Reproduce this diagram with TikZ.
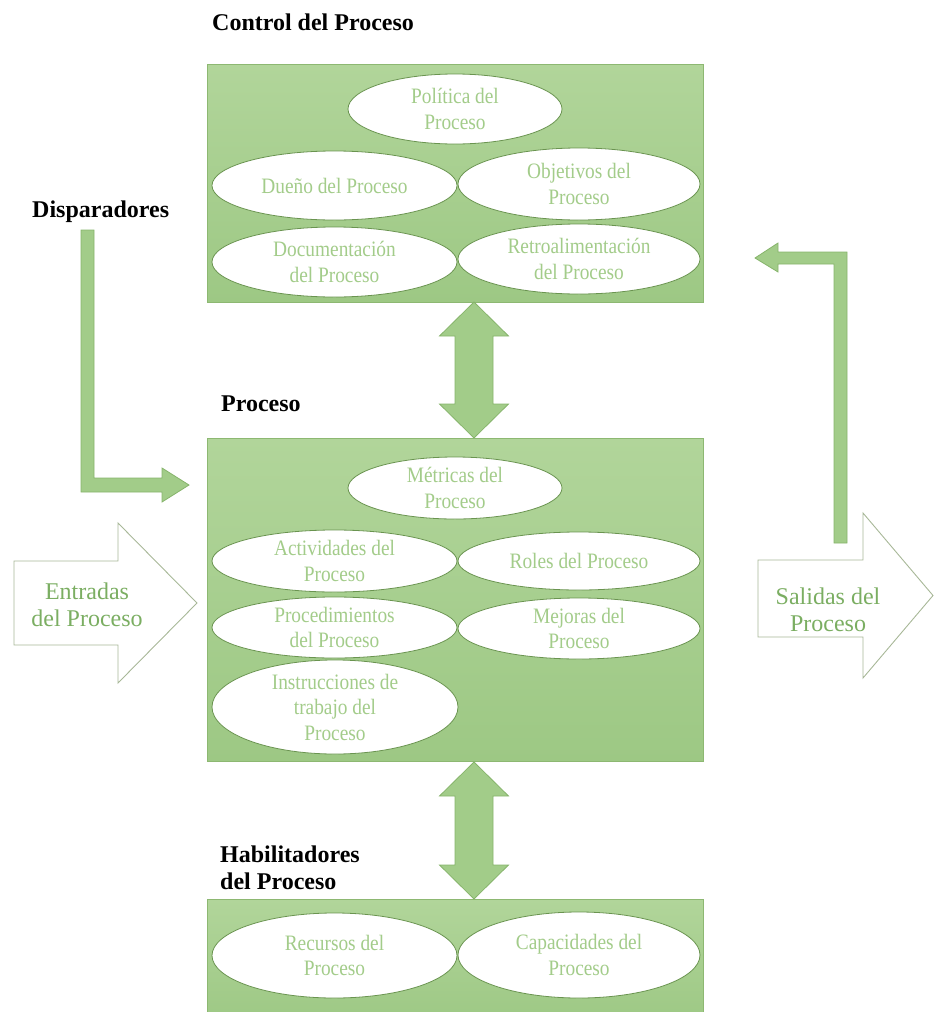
\documentclass[tikz,border=0pt]{standalone}
\usepackage{fontspec}
\setmainfont{Liberation Serif}
\newfontfamily\ovalfont[FakeStretch=0.88]{Liberation Serif}
\usetikzlibrary{shapes.geometric,calc}

\definecolor{boxtop}{HTML}{B1D59A}
\definecolor{boxbot}{HTML}{9DC884}
\definecolor{boxedge}{HTML}{8DB872}
\definecolor{ovaledge}{HTML}{6A9450}
\definecolor{ovaltext}{HTML}{A3CC8A}
\definecolor{flowedge}{HTML}{A8B898}
\definecolor{flowtext}{HTML}{7BAE62}
\definecolor{arrowfill}{HTML}{A2CC89}
\definecolor{arrowedge}{HTML}{86B46B}

\tikzset{
  panel/.style={rectangle, draw=boxedge, line width=1.2pt, top color=boxtop,
    bottom color=boxbot, inner sep=0pt, anchor=north west},
  oval/.style={ellipse, draw=ovaledge, line width=0.8pt, fill=white, inner sep=0pt,
    text=ovaltext, font=\ovalfont\fontsize{22}{25.5}\selectfont, align=center},
  heading/.style={font=\bfseries\fontsize{24}{27}\selectfont, inner sep=0pt, align=left},
  blockarrow/.style={fill=arrowfill, draw=arrowedge, line width=0.8pt, line join=miter},
  flowarrow/.style={fill=white, draw=flowedge, line width=0.9pt},
  flowlabel/.style={text=flowtext, font=\fontsize{24}{27}\selectfont, align=center, inner sep=0pt}
}

% vertical two-headed block arrow: centre x, top tip y, bottom tip y
\newcommand\vdblarrow[3]{%
  \draw[blockarrow] (#1,#2) -- (#1+34.5,#2+34) -- (#1+19,#2+34) -- (#1+19,#3-34)
    -- (#1+34.5,#3-34) -- (#1,#3) -- (#1-34.5,#3-34) -- (#1-19,#3-34)
    -- (#1-19,#2+34) -- (#1-34.5,#2+34) -- cycle;}

\begin{document}
\begin{tikzpicture}[x=1pt,y=-1pt]
\useasboundingbox (0,0) rectangle (934,1012);

% headings
\node[heading, anchor=base west] (ctrlhead) at (212,30) {Control del Proceso};
\node[heading, anchor=base west] (trighead) at (32,217) {Disparadores};
\node[heading, anchor=base west] (prochead) at (221,411) {Proceso};
\node[heading, anchor=north west] (habhead) at (220,845.5) {Habilitadores\\del Proceso};

% panels
\node[panel, minimum width=496pt, minimum height=238pt] (ctrl) at (207,64) {};
\node[panel, minimum width=496pt, minimum height=323pt] (proc) at (207,438) {};
\node[panel, minimum width=496pt, minimum height=125pt] (hab) at (207,899) {};

% control of the process
\node[oval, minimum width=214pt, minimum height=70pt] (pol) at (455,109) {Política del\\Proceso};
\node[oval, minimum width=245pt, minimum height=69pt] (owner) at (334.5,185.5) {Dueño del Proceso};
\node[oval, minimum width=242pt, minimum height=72pt] (goals) at (579,184) {Objetivos del\\Proceso};
\node[oval, minimum width=245pt, minimum height=70pt] (docs) at (334.5,262) {Documentación\\del Proceso};
\node[oval, minimum width=242pt, minimum height=70pt] (feed) at (579,259) {Retroalimentación\\del Proceso};

% the process
\node[oval, minimum width=214pt, minimum height=62pt] (metrics) at (455,488) {Métricas del\\Proceso};
\node[oval, minimum width=245pt, minimum height=62pt] (acts) at (334.5,561) {Actividades del\\Proceso};
\node[oval, minimum width=242pt, minimum height=58pt] (roles) at (579,561) {Roles del Proceso};
\node[oval, minimum width=245pt, minimum height=61pt] (procs) at (334.5,627.5) {Procedimientos\\del Proceso};
\node[oval, minimum width=242pt, minimum height=61pt] (improv) at (579,628.5) {Mejoras del\\Proceso};
\node[oval, minimum width=246pt, minimum height=80pt] (instr) at (335,707) {Instrucciones de\\trabajo del\\Proceso};

% enablers
\node[oval, minimum width=245pt, minimum height=85pt] (res) at (334.5,955.5) {Recursos del\\Proceso};
\node[oval, minimum width=242pt, minimum height=86pt] (cap) at (579,955) {Capacidades del\\Proceso};

% links between panels
\vdblarrow{474}{302}{438}
\vdblarrow{474}{762}{899}

% triggers feeding the process
\draw[blockarrow] (81,230) -- (94,230) -- (94,478) -- (162,478) -- (162,468)
  -- (189,485) -- (162,502) -- (162,492) -- (81,492) -- cycle;

% feedback from outputs to control
\draw[blockarrow] (834,543) -- (834,264) -- (778,264) -- (778,272) -- (755,258)
  -- (778,243) -- (778,252) -- (847,252) -- (847,543) -- cycle;

% inputs and outputs
\draw[flowarrow] (14,561) -- (118,561) -- (118,523) -- (197,603) -- (118,683)
  -- (118,645) -- (14,645) -- cycle;
\node[flowlabel] (inputs) at (87,605) {Entradas\\del Proceso};

\draw[flowarrow] (758,560) -- (863,560) -- (863,513) -- (933,595.5) -- (863,678)
  -- (863,637) -- (758,637) -- cycle;
\node[flowlabel] (outputs) at (828,610) {Salidas del\\Proceso};
\end{tikzpicture}
\end{document}
